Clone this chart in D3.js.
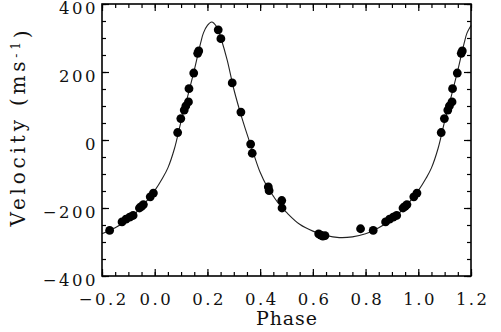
<!DOCTYPE html>
<html>
<head>
<meta charset="utf-8">
<script src="https://cdn.jsdelivr.net/npm/d3@7"></script>
<style>
  html, body { margin: 0; padding: 0; background: #fff; }
  svg { display: block; }
  text { font-family: "DejaVu Serif", serif; fill: #111; }
</style>
</head>
<body>
<svg id="chart" width="501" height="332"></svg>
<script>
// ---- Data (phase-folded radial velocities, one period; drawn repeated over -0.2..1.2) ----
const obsPhase = [0.087, 0.099, 0.112, 0.118, 0.128, 0.130, 0.148, 0.163, 0.167,
                  0.241, 0.251, 0.294, 0.327, 0.364, 0.370, 0.431, 0.434, 0.482, 0.483,
                  0.622, 0.630, 0.638, 0.646, 0.781, 0.829, 0.876, 0.891, 0.905, 0.918,
                  0.942, 0.950, 0.957, 0.983, 0.995];
const obsVel   = [22, 63, 88, 100, 112, 151, 197, 255, 262,
                  324, 298, 168, 82, -12, -39, -138, -149, -178, -200,
                  -276, -280, -283, -281, -261, -266, -241, -233, -227, -222,
                  -200, -195, -190, -167, -156];

// orbital fit curve (one period)
const fitPhase = [0.00, 0.03, 0.05, 0.075, 0.10, 0.125, 0.15, 0.175, 0.185, 0.20, 0.216, 0.225,
                  0.24, 0.25, 0.275, 0.30, 0.325, 0.35, 0.375, 0.40, 0.425, 0.45, 0.475,
                  0.50, 0.55, 0.60, 0.65, 0.70, 0.75, 0.80, 0.85, 0.90, 0.95];
const fitVel   = [-149, -112, -82, -25, 55, 128, 205, 288, 315, 337, 347, 343,
                  326, 303, 235, 150, 80, 18, -40, -95, -135, -165, -192,
                  -213, -248, -268, -281, -287, -285, -276, -258, -234, -197];

const xTicks = [-0.2, 0.0, 0.2, 0.4, 0.6, 0.8, 1.0, 1.2];
const yTicks = [-400, -200, 0, 200, 400];
const xDomain = [-0.2, 1.2];
const yDomain = [-400, 400];

// ---- Layout ----
const svg = d3.select("#chart");
const L = 102, R = 471, T = 4, B = 276;
const x = d3.scaleLinear().domain(xDomain).range([L, R]);
const y = d3.scaleLinear().domain(yDomain).range([B, T]);

// repeat phase-folded data over the shown window
function unfold(ph, v) {
  const out = [];
  [-1, 0, 1].forEach(s => ph.forEach((p, i) => {
    const q = +(p + s).toFixed(4);
    if (q >= xDomain[0] - 1e-9 && q <= xDomain[1] + 1e-9) out.push([q, v[i]]);
  }));
  return out.sort((a, b) => a[0] - b[0]);
}
const pts = unfold(obsPhase, obsVel);
const curve = unfold(fitPhase, fitVel);

// fit curve
svg.append("path")
  .datum(curve)
  .attr("fill", "none")
  .attr("stroke", "#222")
  .attr("stroke-width", 1.1)
  .attr("d", d3.line().x(d => x(d[0])).y(d => y(d[1])).curve(d3.curveCatmullRom.alpha(0.5)));

// points
svg.append("g").selectAll("circle")
  .data(pts)
  .join("circle")
  .attr("cx", d => x(d[0]))
  .attr("cy", d => y(d[1]))
  .attr("r", 4.4)
  .attr("fill", "#000");

// ---- Axes (ticks inward on all four sides) ----
const fmtX = d3.format(".1f");
const minorX = d3.range(-0.2, 1.2001, 0.05).map(v => +v.toFixed(2));
const minorY = d3.range(-400, 401, 50);
const major = 7, minor = 4;

function styleAxis(g) {
  g.select(".domain").remove();
  g.selectAll("line").attr("stroke", "#000").attr("stroke-width", 1.2);
}

// bottom
svg.append("g").attr("transform", `translate(0,${B})`)
  .call(d3.axisBottom(x).tickValues(minorX).tickSize(-minor).tickFormat(""))
  .call(styleAxis);
const gxb = svg.append("g").attr("transform", `translate(0,${B})`)
  .call(d3.axisBottom(x).tickValues(xTicks).tickSize(-major).tickFormat(d => fmtX(d).replace("-", "\u2212")))
  .call(styleAxis);
gxb.selectAll("text")
  .attr("y", 29).attr("dy", 0)
  .attr("dx", "1.25")
  .style("font-size", "16.5px").style("letter-spacing", "2.5px");

// top
svg.append("g").attr("transform", `translate(0,${T})`)
  .call(d3.axisTop(x).tickValues(minorX).tickSize(-minor).tickFormat(""))
  .call(styleAxis);
svg.append("g").attr("transform", `translate(0,${T})`)
  .call(d3.axisTop(x).tickValues(xTicks).tickSize(-major).tickFormat(""))
  .call(styleAxis);

// left
svg.append("g").attr("transform", `translate(${L},0)`)
  .call(d3.axisLeft(y).tickValues(minorY).tickSize(-minor).tickFormat(""))
  .call(styleAxis);
const gyl = svg.append("g").attr("transform", `translate(${L},0)`)
  .call(d3.axisLeft(y).tickValues(yTicks).tickSize(-major).tickFormat(d => String(d).replace("-", "\u2212")))
  .call(styleAxis);
gyl.selectAll("text")
  .attr("x", -4).attr("dy", "0.55em")
  .style("font-size", "16.5px").style("letter-spacing", "2.5px");

// right
svg.append("g").attr("transform", `translate(${R},0)`)
  .call(d3.axisRight(y).tickValues(minorY).tickSize(-minor).tickFormat(""))
  .call(styleAxis);
svg.append("g").attr("transform", `translate(${R},0)`)
  .call(d3.axisRight(y).tickValues(yTicks).tickSize(-major).tickFormat(""))
  .call(styleAxis);

// frame
svg.append("rect")
  .attr("x", L).attr("y", T).attr("width", R - L).attr("height", B - T)
  .attr("fill", "none").attr("stroke", "#000").attr("stroke-width", 1.6);

// axis titles
svg.append("text")
  .attr("x", (L + R) / 2).attr("y", 325)
  .attr("text-anchor", "middle")
  .attr("textLength", 61).attr("lengthAdjust", "spacing")
  .style("font-size", "19px")
  .text("Phase");

const yt = svg.append("text")
  .attr("transform", "translate(25,128.5) rotate(-90)")
  .attr("text-anchor", "middle")
  .attr("textLength", 196).attr("lengthAdjust", "spacing")
  .style("font-size", "20px");
yt.append("tspan").text("Velocity (ms");
yt.append("tspan").attr("dy", "-0.45em").style("font-size", "12px").text("-1");
yt.append("tspan").attr("dy", "0.45em").text(")");
</script>
</body>
</html>
